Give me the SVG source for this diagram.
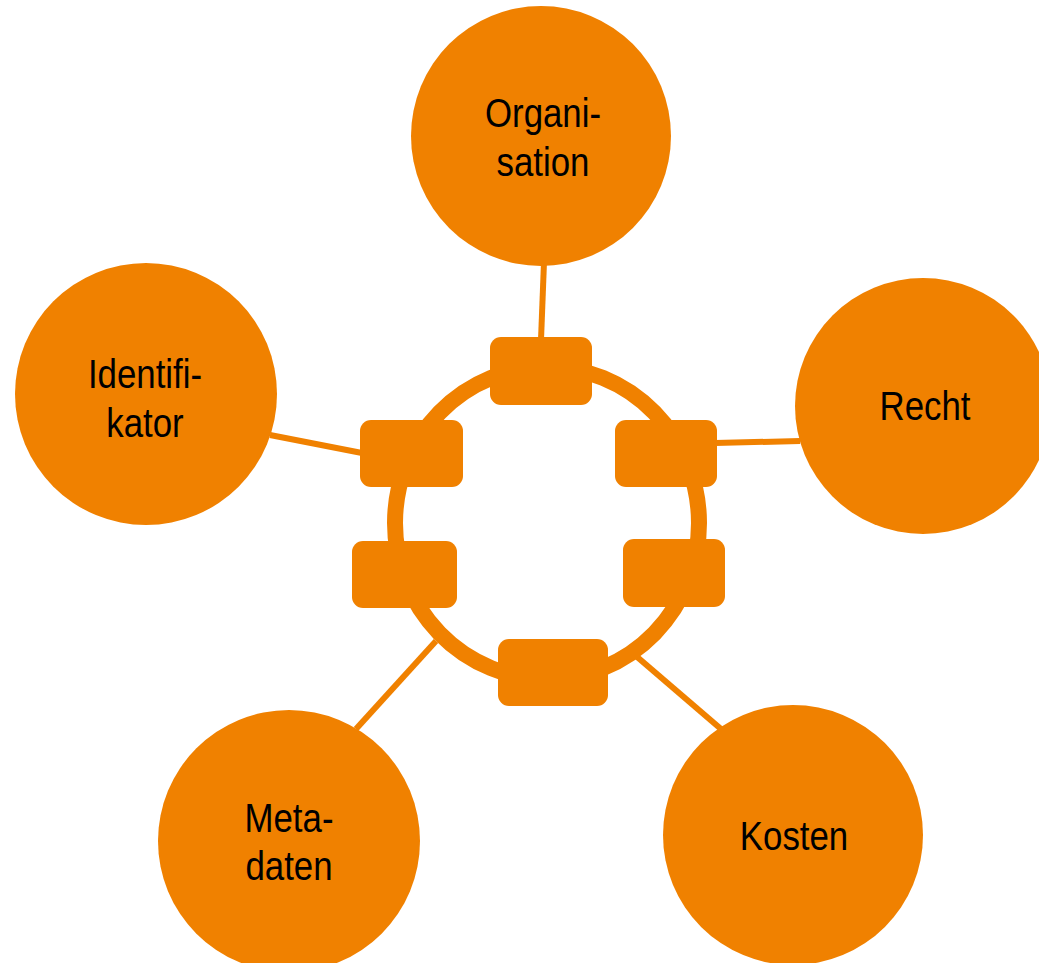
<svg xmlns="http://www.w3.org/2000/svg" width="1039" height="963" viewBox="0 0 1039 963">
<style>
.c{fill:#F08100}
.b{fill:#F08100}
.l{stroke:#F08100;stroke-width:6;fill:none}
.ring{stroke:#F08100;stroke-width:16;fill:none}
.t{font-family:"Liberation Sans",Arial,sans-serif;font-size:40px;fill:#000;text-anchor:middle}
</style>
<rect width="1039" height="963" fill="#fff"/>
<g id="connectors">
<line class="l" x1="544" y1="262" x2="541" y2="340"/>
<line class="l" x1="715" y1="443" x2="800" y2="441"/>
<line class="l" x1="270" y1="435" x2="362" y2="453"/>
<line class="l" x1="436" y1="641" x2="356" y2="729"/>
<line class="l" x1="636" y1="656" x2="721" y2="729"/>
</g>
<g id="hub">
<ellipse class="ring" cx="547" cy="523" rx="152" ry="156"/>
<rect class="b" x="490" y="337" width="102" height="68" rx="11"/>
<rect class="b" x="360" y="420" width="103" height="67" rx="11"/>
<rect class="b" x="615" y="420" width="102" height="67" rx="11"/>
<rect class="b" x="352" y="541" width="105" height="67" rx="11"/>
<rect class="b" x="623" y="539" width="102" height="68" rx="11"/>
<rect class="b" x="498" y="639" width="110" height="67" rx="11"/>
</g>
<g id="organisation">
<circle class="c" cx="541" cy="136" r="130"/>
<text class="t" transform="translate(543,0) scale(0.87,1)"><tspan x="0" y="127">Organi-</tspan><tspan x="0" y="176">sation</tspan></text>
</g>
<g id="recht">
<circle class="c" cx="923" cy="406" r="128"/>
<text class="t" transform="translate(925,0) scale(0.87,1)"><tspan x="0" y="420">Recht</tspan></text>
</g>
<g id="identifikator">
<circle class="c" cx="146" cy="394" r="131"/>
<text class="t" transform="translate(145,0) scale(0.87,1)"><tspan x="0" y="388">Identifi-</tspan><tspan x="0" y="437">kator</tspan></text>
</g>
<g id="metadaten">
<circle class="c" cx="289" cy="841" r="131"/>
<text class="t" transform="translate(289,0) scale(0.87,1)"><tspan x="0" y="832">Meta-</tspan><tspan x="0" y="880">daten</tspan></text>
</g>
<g id="kosten">
<circle class="c" cx="793" cy="835" r="130"/>
<text class="t" transform="translate(794,0) scale(0.87,1)"><tspan x="0" y="850">Kosten</tspan></text>
</g>
</svg>
